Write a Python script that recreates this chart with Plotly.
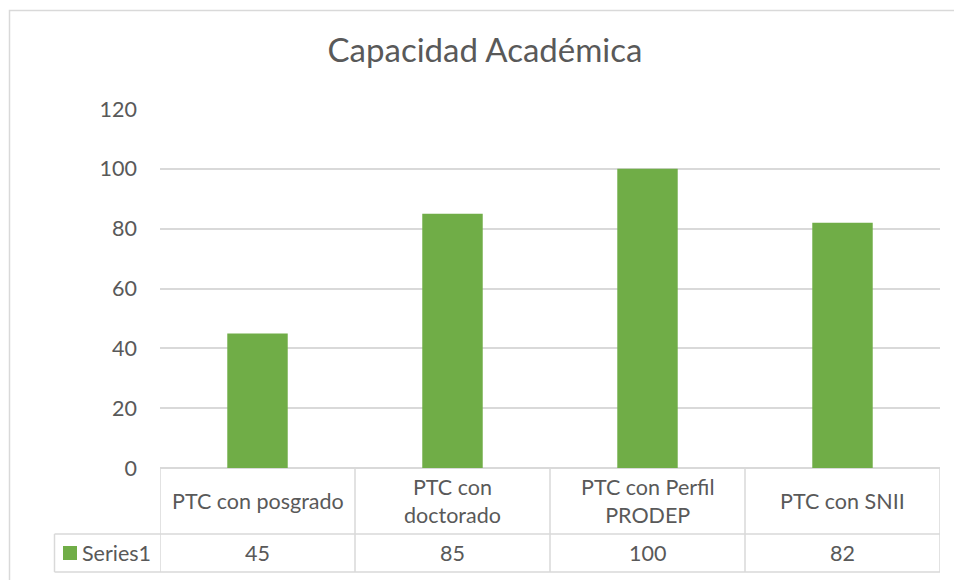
import plotly.graph_objects as go

categories = ["PTC con posgrado", "PTC con doctorado", "PTC con Perfil PRODEP", "PTC con SNII"]
table_labels = ["PTC con posgrado", "PTC con<br>doctorado", "PTC con Perfil<br>PRODEP", "PTC con SNII"]
series_name = "Series1"
values = [45, 85, 100, 82]
y_ticks = [0, 20, 40, 60, 80, 100, 120]

W, H = 954, 580
L, R, T, B = 160, 14, 109, 112
PW, PH = W - L - R, H - T - B

def px(xp):
    return (xp - L) / PW

def py(yp):
    return (H - B - yp) / PH

FONT = "Lato"
FS = 21.5
TXT = "#595959"
GRID = "#d9d9d9"
GREEN = "#70ad47"

fig = go.Figure()
fig.add_trace(go.Bar(
    x=categories, y=values, name=series_name,
    marker=dict(color=GREEN, line=dict(width=0)),
    width=0.31, hoverinfo="x+y",
))

shapes = []
# chart outer border
shapes.append(dict(type="rect", xref="paper", yref="paper",
                   x0=px(9.5), x1=px(W + 10), y0=py(H + 10), y1=py(10.5),
                   line=dict(color=GRID, width=1.5), layer="below"))
# table vertical lines at category boundaries
for b in [-0.5, 0.5, 1.5, 2.5, 3.5]:
    shapes.append(dict(type="line", xref="x", yref="paper", x0=b, x1=b,
                       y0=py(572), y1=0, line=dict(color=GRID, width=1.5)))
# table horizontal lines
for yy in [534, 572]:
    shapes.append(dict(type="line", xref="paper", yref="paper",
                       x0=px(54.5), x1=1, y0=py(yy), y1=py(yy),
                       line=dict(color=GRID, width=1.5)))
# left border of series row
shapes.append(dict(type="line", xref="paper", yref="paper",
                   x0=px(54.5), x1=px(54.5), y0=py(572), y1=py(534),
                   line=dict(color=GRID, width=1.5)))
# legend key
shapes.append(dict(type="rect", xref="paper", yref="paper",
                   x0=px(63), x1=px(77), y0=py(560), y1=py(546),
                   line=dict(width=0), fillcolor=GREEN))

annotations = []
for c, lab in zip(categories, table_labels):
    annotations.append(dict(x=c, xref="x", y=py(501), yref="paper",
                            text=lab, showarrow=False, xanchor="center", yanchor="middle",
                            font=dict(family=FONT, size=FS, color=TXT)))
for c, v in zip(categories, values):
    annotations.append(dict(x=c, xref="x", y=py(553), yref="paper",
                            text=str(v), showarrow=False, xanchor="center", yanchor="middle",
                            font=dict(family=FONT, size=FS, color=TXT)))
annotations.append(dict(x=px(80), xref="paper", y=py(553), yref="paper",
                        text=series_name, showarrow=False, xanchor="left", yanchor="middle",
                        font=dict(family=FONT, size=FS, color=TXT)))

fig.update_layout(
    width=W, height=H,
    margin=dict(l=L, r=R, t=T, b=B, pad=0),
    paper_bgcolor="white", plot_bgcolor="white",
    title=dict(text="Capacidad Académica", x=485 / W, xref="container", xanchor="center",
               y=1 - 50 / H, yref="container", yanchor="middle",
               font=dict(family=FONT, size=33, color=TXT)),
    showlegend=False,
    bargap=0.69,
    xaxis=dict(type="category", range=[-0.5, 3.5], showticklabels=False,
               showgrid=False, zeroline=False, showline=False, ticks=""),
    yaxis=dict(range=[0, 120], tickvals=y_ticks, showgrid=True, gridcolor=GRID, gridwidth=1.5,
               zeroline=True, zerolinecolor=GRID, zerolinewidth=1.5, showline=False, ticks="",
               ticklabelstandoff=22,
               tickfont=dict(family=FONT, size=FS, color=TXT)),
    shapes=shapes,
    annotations=annotations,
    font=dict(family=FONT, color=TXT),
)

fig.write_html("out.html", config={"displayModeBar": False},
               post_script="document.body.style.margin='0px';document.body.style.overflow='hidden';")
